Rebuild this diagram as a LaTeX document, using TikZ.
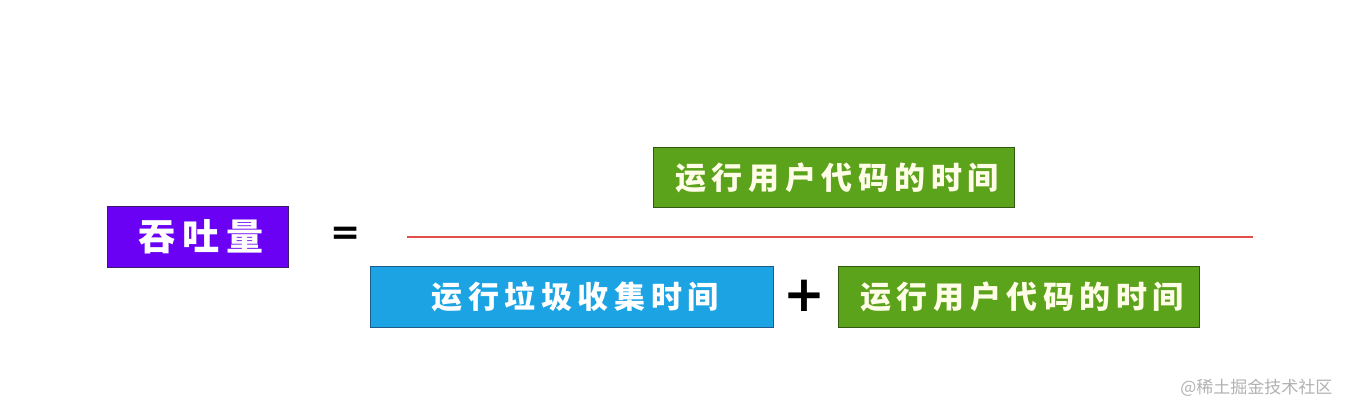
\documentclass[tikz,border=0pt]{standalone}
\usepackage{fontspec}
\newfontfamily\cjk{Noto Sans CJK SC}[LetterSpace=18]
\newfontfamily\cjkplain{Noto Sans CJK SC}
\newfontfamily\symf{DejaVu Sans}
\definecolor{purplebox}{HTML}{6A00F4}
\definecolor{purpleedge}{HTML}{3A1A6A}
\definecolor{greenbox}{HTML}{5CA31C}
\definecolor{greenedge}{HTML}{2F5A10}
\definecolor{bluebox}{HTML}{1BA3E4}
\definecolor{blueedge}{HTML}{1E5A8A}
\definecolor{redline}{HTML}{E0504A}
\definecolor{creamtext}{HTML}{FFFCE8}
\tikzset{
  box/.style={draw, line width=1.2pt, inner sep=0pt, anchor=north west},
  boxtext/.style={font=\cjk\bfseries\fontsize{31}{34}\selectfont, text=creamtext},
}
\begin{document}
\begin{tikzpicture}[x=1pt,y=-1pt]
\useasboundingbox[fill=white] (0,0) rectangle (1348,414);
% purple box
\node[box, fill=purplebox, draw=purpleedge, minimum width=181pt, minimum height=61pt] (tp) at (107,206) {};
\node[font=\cjk\bfseries\fontsize{37}{40}\selectfont, text=white] (tpt) at ([xshift=3pt]tp.center) {吞吐量};
% equals
\node[font=\symf\bfseries\fontsize{36}{36}\selectfont] (eq) at (346,236) {=};
% top green
\node[box, fill=greenbox, draw=greenedge, minimum width=361pt, minimum height=60pt] (top) at (653,147) {};
\node[boxtext] (topt) at ([xshift=3pt]top.center) {运行用户代码的时间};
% fraction line
\coordinate (la) at (407,237);
\coordinate (lb) at (1253,237);
\draw[draw=redline, line width=1.3pt] (la) -- (lb);
% blue box
\node[box, fill=bluebox, draw=blueedge, minimum width=403pt, minimum height=61pt] (gc) at (370,266) {};
\node[boxtext, text=white] (gct) at ([xshift=3pt]gc.center) {运行垃圾收集时间};
% plus
\node[font=\symf\bfseries\fontsize{50}{50}\selectfont] (plus) at (804,296) {+};
% bottom green
\node[box, fill=greenbox, draw=greenedge, minimum width=361pt, minimum height=61pt] (bot) at (838,266) {};
\node[boxtext] (bott) at ([xshift=3pt]bot.center) {运行用户代码的时间};
% watermark
\node[font=\cjkplain\fontsize{17}{17}\selectfont, text=black!30, anchor=east] (wm) at (1336,388) {@稀土掘金技术社区};
\end{tikzpicture}
\end{document}
